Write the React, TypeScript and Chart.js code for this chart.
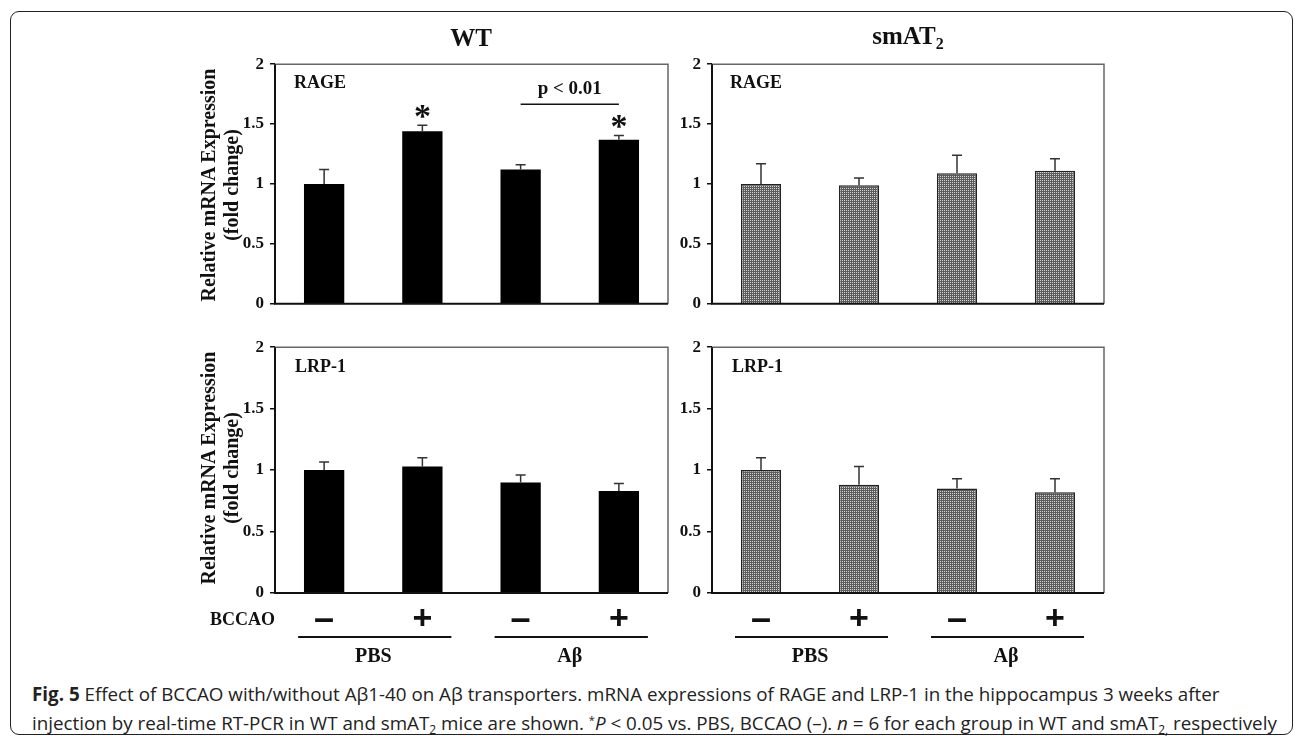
import React, { useEffect, useRef } from 'react';
import { Chart, registerables } from 'chart.js';
Chart.register(...registerables);

// ---------- data ----------
const categories = ['PBS / BCCAO −', 'PBS / BCCAO +', 'Aβ / BCCAO −', 'Aβ / BCCAO +'];
const bccaoSigns = ['–', '+', '–', '+'];
const treatmentGroups = ['PBS', 'Aβ'];
const yTickValues = [0, 0.5, 1, 1.5, 2];

const wtRage = [1.0, 1.44, 1.12, 1.37];
const wtRageErr = [0.12, 0.05, 0.04, 0.035];
const wtRageStars = [false, true, false, true];

const smRage = [1.0, 0.99, 1.09, 1.11];
const smRageErr = [0.17, 0.06, 0.15, 0.1];

const wtLrp = [1.0, 1.03, 0.9, 0.83];
const wtLrpErr = [0.065, 0.07, 0.06, 0.06];

const smLrp = [1.0, 0.88, 0.85, 0.82];
const smLrpErr = [0.1, 0.15, 0.08, 0.11];

const pBracketText = 'p < 0.01';
const pBracketLevel = 1.665;

const SERIF = '"Liberation Serif", "Times New Roman", serif';
const SANS = '"Liberation Sans", Arial, sans-serif';

type PanelProps = {
  left: number;
  top: number;
  plotW: number;
  plotH: number;
  values: number[];
  errors: number[];
  hatched: boolean;
  showX: boolean;
  stars?: boolean[];
  bracket?: boolean;
};

const PAD_L = 60;
const PAD_R = 8;
const PAD_T = 12;

function Panel(p: PanelProps) {
  const ref = useRef<HTMLCanvasElement | null>(null);
  const padB = p.showX ? 85 : 10;
  const cw = PAD_L + p.plotW + PAD_R;
  const ch = PAD_T + p.plotH + padB;

  useEffect(() => {
    const canvas = ref.current!;
    const ctx = canvas.getContext('2d')!;
    let fill: any = '#000000';
    if (p.hatched) {
      const pc = document.createElement('canvas');
      pc.width = 2;
      pc.height = 2;
      const g = pc.getContext('2d')!;
      g.fillStyle = '#5c5c5c';
      g.fillRect(0, 0, 2, 2);
      g.fillStyle = '#d4d4d4';
      g.fillRect(0, 0, 1, 1);
      fill = ctx.createPattern(pc, 'repeat');
    }

    const overlay = {
      id: 'overlay',
      afterDatasetsDraw(chart: any) {
        const c = chart.ctx;
        const a = chart.chartArea;
        const xs = chart.scales.x;
        const ys = chart.scales.y;
        c.save();
        // error bars
        c.strokeStyle = '#333';
        c.lineWidth = 1.5;
        p.values.forEach((v, i) => {
          const px = xs.getPixelForValue(i);
          const y0 = ys.getPixelForValue(v);
          const y1 = ys.getPixelForValue(v + p.errors[i]);
          c.beginPath();
          c.moveTo(px, y0);
          c.lineTo(px, y1);
          c.moveTo(px - 5, y1);
          c.lineTo(px + 5, y1);
          c.stroke();
        });
        // frame
        c.strokeStyle = '#666';
        c.lineWidth = 1.5;
        c.beginPath();
        c.moveTo(a.left, a.top);
        c.lineTo(a.right, a.top);
        c.lineTo(a.right, a.bottom);
        c.stroke();
        c.strokeStyle = '#111';
        c.lineWidth = 2;
        c.beginPath();
        c.moveTo(a.left, a.top);
        c.lineTo(a.left, a.bottom);
        c.lineTo(a.right, a.bottom);
        c.stroke();
        // stars
        if (p.stars) {
          c.fillStyle = '#111';
          c.font = `bold 34px ${SERIF}`;
          c.textAlign = 'center';
          c.textBaseline = 'alphabetic';
          const m = c.measureText('*');
          const off = (m.actualBoundingBoxAscent - m.actualBoundingBoxDescent) / 2;
          p.stars.forEach((s, i) => {
            if (!s) return;
            const px = xs.getPixelForValue(i);
            const y1 = ys.getPixelForValue(p.values[i] + p.errors[i]);
            c.fillText('*', px, y1 - 14 + off);
          });
        }
        // bracket
        if (p.bracket) {
          const x1 = xs.getPixelForValue(2);
          const x2 = xs.getPixelForValue(3);
          const by = ys.getPixelForValue(pBracketLevel);
          c.strokeStyle = '#111';
          c.lineWidth = 1.5;
          c.beginPath();
          c.moveTo(x1, by);
          c.lineTo(x2, by);
          c.stroke();
          c.fillStyle = '#111';
          c.font = `bold 19px ${SERIF}`;
          c.textAlign = 'center';
          c.textBaseline = 'middle';
          c.fillText(pBracketText, (x1 + x2) / 2, by - 15);
        }
        // x labels
        if (p.showX) {
          c.fillStyle = '#111';
          c.textAlign = 'center';
          c.textBaseline = 'middle';
          bccaoSigns.forEach((s, i) => {
            c.font = s === '+' ? `bold 34px ${SANS}` : `bold 36px ${SANS}`;
            c.fillText(s, xs.getPixelForValue(i), a.bottom + 27);
          });
          c.strokeStyle = '#111';
          c.lineWidth = 2;
          treatmentGroups.forEach((g, gi) => {
            const c1 = xs.getPixelForValue(gi * 2);
            const c2 = xs.getPixelForValue(gi * 2 + 1);
            c.beginPath();
            c.moveTo(c1 - 26, a.bottom + 44);
            c.lineTo(c2 + 29, a.bottom + 44);
            c.stroke();
            c.font = `bold 20px ${SERIF}`;
            c.fillText(g, (c1 + c2) / 2, a.bottom + 64);
          });
        }
        c.restore();
      },
    };

    const chart = new Chart(ctx, {
      type: 'bar',
      data: {
        labels: categories,
        datasets: [
          {
            data: p.values,
            backgroundColor: fill,
            borderColor: '#222',
            borderWidth: p.hatched ? 1.5 : 0,
            barPercentage: 0.41,
            categoryPercentage: 1,
          },
        ],
      },
      options: {
        animation: false,
        responsive: false,
        maintainAspectRatio: false,
        layout: { padding: { left: 0, right: PAD_R, top: PAD_T, bottom: padB } },
        plugins: { legend: { display: false }, tooltip: { enabled: false } },
        scales: {
          x: { type: 'category', display: false },
          y: {
            min: 0,
            max: 2,
            afterBuildTicks: (s: any) => {
              s.ticks = yTickValues.map((v) => ({ value: v }));
            },
            afterFit: (s: any) => {
              s.width = PAD_L;
            },
            ticks: {
              callback: (v: any) => String(v),
              color: '#111',
              padding: 6,
              font: { family: SERIF, weight: 'bold', size: 17 },
            },
            grid: { drawOnChartArea: false, drawTicks: true, tickLength: 5, color: '#111', lineWidth: 1.5 },
            border: { display: false },
          },
        },
      },
      plugins: [overlay],
    } as any);
    return () => chart.destroy();
  }, []);

  return (
    <canvas
      ref={ref}
      width={cw}
      height={ch}
      style={{ position: 'absolute', left: p.left - PAD_L, top: p.top - PAD_T, width: cw, height: ch }}
    />
  );
}

const abs = (x: number, y: number, extra: React.CSSProperties = {}): React.CSSProperties => ({
  position: 'absolute',
  left: x,
  top: y,
  whiteSpace: 'nowrap',
  lineHeight: 1,
  color: '#111',
  fontFamily: SERIF,
  fontWeight: 'bold',
  ...extra,
});

export default function App() {
  const plotW1 = 393;
  const plotW2 = 392;
  const plotH = 250;
  return (
    <div style={{ position: 'absolute', left: 0, top: 0, width: 1295, height: 737, background: '#fff', overflow: 'hidden' }}>
      <div
        style={{
          position: 'absolute',
          left: 10,
          top: 11,
          width: 1283,
          height: 724,
          border: '1.5px solid #222',
          borderRadius: 9,
          boxSizing: 'border-box',
        }}
      />
      <Panel left={275} top={60} plotW={plotW1} plotH={plotH} values={wtRage} errors={wtRageErr} hatched={false} showX={false} stars={wtRageStars} bracket />
      <Panel left={712} top={60} plotW={plotW2} plotH={plotH} values={smRage} errors={smRageErr} hatched showX={false} />
      <Panel left={275} top={343} plotW={plotW1} plotH={plotH} values={wtLrp} errors={wtLrpErr} hatched={false} showX />
      <Panel left={712} top={343} plotW={plotW2} plotH={plotH} values={smLrp} errors={smLrpErr} hatched showX />

      <div style={abs(471, 37, { fontSize: 25, transform: 'translate(-50%,-50%)' })}>WT</div>
      <div style={abs(908, 37, { fontSize: 25, transform: 'translate(-50%,-50%)' })}>
        smAT<sub style={{ fontSize: 16, verticalAlign: -5 }}>2</sub>
      </div>

      {[185, 468].map((cy) => (
        <div
          key={cy}
          style={abs(220, cy, {
            fontSize: 20,
            lineHeight: '23px',
            textAlign: 'center',
            transform: 'translate(-50%,-50%) rotate(-90deg)',
          })}
        >
          Relative mRNA Expression
          <br />
          (fold change)
        </div>
      ))}

      <div style={abs(294, 82, { fontSize: 18, transform: 'translateY(-50%)' })}>RAGE</div>
      <div style={abs(730, 82, { fontSize: 18, transform: 'translateY(-50%)' })}>RAGE</div>
      <div style={abs(295, 366, { fontSize: 18, transform: 'translateY(-50%)' })}>LRP-1</div>
      <div style={abs(732, 366, { fontSize: 18, transform: 'translateY(-50%)' })}>LRP-1</div>
      <div style={abs(210, 619, { fontSize: 18, transform: 'translateY(-50%)' })}>BCCAO</div>

      <div
        style={{
          position: 'absolute',
          left: 32,
          top: 681,
          fontFamily: '"Open Sans", "Noto Sans", sans-serif',
          fontSize: 18.8,
          lineHeight: '26px',
          color: '#222',
          whiteSpace: 'nowrap',
        }}
      >
        <b>Fig. 5</b> Effect of BCCAO with/without Aβ1-40 on Aβ transporters. mRNA expressions of RAGE and LRP-1 in the hippocampus 3 weeks after
        <br />
        injection by real-time RT-PCR in WT and smAT<sub style={{ fontSize: 12, verticalAlign: -4 }}>2</sub> mice are shown.{' '}
        <sup style={{ fontSize: 11, verticalAlign: 6 }}>*</sup>
        <i>P</i> &lt; 0.05 vs. PBS, BCCAO (–). <i>n</i> = 6 for each group in WT and smAT
        <sub style={{ fontSize: 12, verticalAlign: -4 }}>2,</sub> respectively
      </div>
    </div>
  );
}
